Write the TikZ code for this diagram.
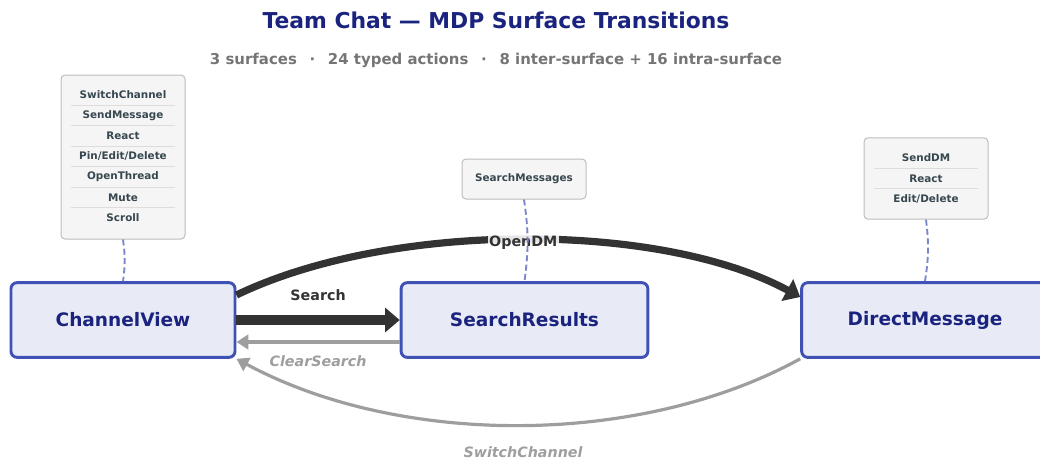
\documentclass[tikz,border=0pt]{standalone}
\usepackage{fontspec}
\setmainfont{DejaVu Sans}
\usetikzlibrary{positioning}
\usetikzlibrary{arrows.meta}

\definecolor{surffill}{HTML}{E8EAF6}
\definecolor{surfdraw}{HTML}{3F51B5}
\definecolor{surftext}{HTML}{1A237E}
\definecolor{actfill}{HTML}{F5F5F5}
\definecolor{actdraw}{HTML}{BDBDBD}
\definecolor{acttext}{HTML}{37474F}
\definecolor{actrule}{HTML}{DDDDDD}
\definecolor{tiedash}{HTML}{7986CB}
\definecolor{fwdcol}{HTML}{333333}
\definecolor{backcol}{HTML}{9E9E9E}
\definecolor{subgray}{HTML}{757575}

\tikzset{
  surface/.style={rectangle, rounded corners=4.5pt, draw=surfdraw, line width=2.2pt, fill=surffill,
    text=surftext, font=\fontsize{13.9}{16}\selectfont\bfseries, minimum height=56pt, inner sep=0pt},
  actbox/.style={rectangle, rounded corners=3pt, draw=actdraw, line width=0.75pt, fill=actfill,
    minimum width=93pt, inner sep=0pt},
  actlabel/.style={text=acttext, font=\fontsize{7.8}{9}\selectfont\bfseries, inner sep=0pt},
  actsep/.style={draw=actrule, line width=0.5pt},
  tie/.style={draw=tiedash, line width=1.4pt, dash pattern=on 4.5pt off 2.5pt},
  fwdedge/.style={draw=fwdcol, -{Triangle[length=11pt,width=18pt]}},
  backedge/.style={draw=backcol, line width=2.4pt, -{Triangle[length=9pt,width=11pt]}},
  fwdlabel/.style={text=fwdcol, font=\fontsize{10.7}{12}\selectfont\bfseries, inner sep=1pt},
  backlabel/.style={text=backcol, font=\fontsize{10.7}{12}\selectfont\bfseries\itshape, inner sep=1pt}
}

\begin{document}
\begin{tikzpicture}[x=0.75pt,y=-0.75pt]
\useasboundingbox (0,0) rectangle (1040,462);

% title
\node[text=surftext, font=\fontsize{16.4}{19}\selectfont\bfseries] (title) at (496,20) {Team Chat — MDP Surface Transitions};
\node[text=subgray, font=\fontsize{11.2}{13}\selectfont\bfseries] (subtitle) at (496,60)
  {3 surfaces\hspace{0.85em}·\hspace{0.85em}24 typed actions\hspace{0.85em}·\hspace{0.85em}8 inter-surface + 16 intra-surface};

% surfaces
\node[surface, minimum width=168pt] (cv) at (123,320) {ChannelView};
\node[surface, minimum width=185pt] (sr) at (524.5,320) {SearchResults};
\node[surface, minimum width=185pt] (dm) at (925,320) {DirectMessage};

% action lists
\node[actbox, minimum height=123pt] (acv) at (123,157) {};
\foreach \t [count=\i] in {SwitchChannel,SendMessage,React,Pin/Edit/Delete,OpenThread,Mute,Scroll}
  \node[actlabel] (acv-\i) at (123,{95+20.5*(\i-1)}) {\t};
\foreach \i in {1,...,6}
  \draw[actsep] (71,{105.25+20.5*(\i-1)}) -- (175,{105.25+20.5*(\i-1)});

\node[actbox, minimum height=30pt] (asr) at (524,179) {};
\node[actlabel] (asr-1) at (524,179) {SearchMessages};

\node[actbox, minimum height=61pt] (adm) at (926,178.5) {};
\foreach \t [count=\i] in {SendDM,React,Edit/Delete}
  \node[actlabel] (adm-\i) at (926,{158+20.5*(\i-1)}) {\t};
\foreach \i in {1,2}
  \draw[actsep] (874,{168.25+20.5*(\i-1)}) -- (978,{168.25+20.5*(\i-1)});

% transitions
\draw[fwdedge, line width=5.4pt] ([yshift=18.75pt]cv.east) .. controls (390,221) and (660,221) .. ([yshift=17.25pt]dm.west)
  node[fwdlabel, pos=0.5, yshift=-2pt, fill=white, fill opacity=0.88, text opacity=1] (lopen) {OpenDM};
\draw[fwdedge, line width=6.8pt] (cv.east) -- (sr.west)
  node[fwdlabel, midway, above=10pt] (lsearch) {Search};
\draw[backedge] ([yshift=-16.5pt]sr.west) -- ([yshift=-16.5pt]cv.east)
  node[backlabel, midway, below=8pt] (lclear) {ClearSearch};
\draw[backedge] (dm.south west) .. controls (640,447) and (400,447) .. (cv.south east);
\node[backlabel] (lswitch) at (523,452) {SwitchChannel};

% ties
\draw[tie] (acv.south) to[bend left=8] (cv.north);
\draw[tie] (asr.south) to[bend left=8] (sr.north);
\draw[tie] (adm.south) to[bend left=8] (dm.north);
\end{tikzpicture}
\end{document}
